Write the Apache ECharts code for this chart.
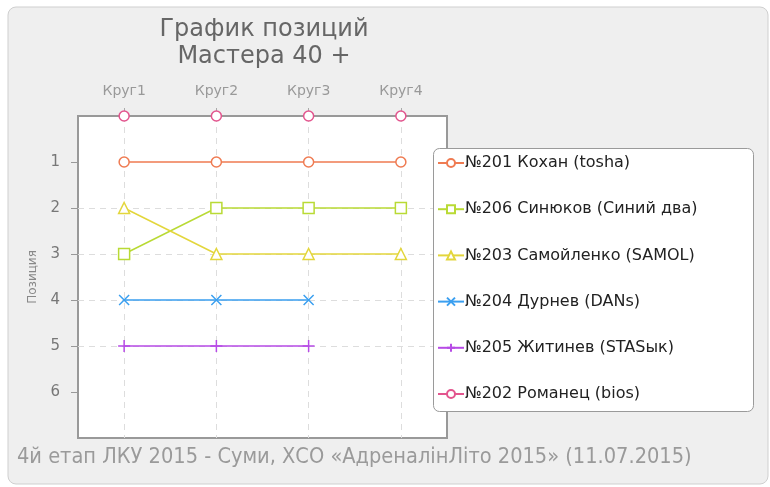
<!DOCTYPE html>
<html>
<head>
<meta charset="utf-8">
<script src="https://cdn.jsdelivr.net/npm/echarts@6/dist/echarts.min.js"></script>
<style>
  html, body { margin: 0; padding: 0; background: #fff; }
  #main { width: 770px; height: 487px; }
</style>
</head>
<body>
<div id="main"></div>
<script>
const rounds = ['Круг1', 'Круг2', 'Круг3', 'Круг4'];
const names = [
  '№201 Кохан (tosha)',
  '№206 Синюков (Синий два)',
  '№203 Самойленко (SAMOL)',
  '№204 Дурнев (DANs)',
  '№205 Житинев (STASык)',
  '№202 Романец (bios)'
];
const positionTicks = [1, 2, 3, 4, 5, 6];
const kohan = [1, 1, 1, 1];
const sinyukov = [3, 2, 2, 2];
const samoilenko = [2, 3, 3, 3];
const durnev = [4, 4, 4, null];
const zhitinev = [5, 5, 5, null];
const romanets = [0, 0, 0, 0];

const colors = ['#ef7b52', '#b9da35', '#e3d63c', '#3a9ff0', '#b74be6', '#e3558e'];
const symbols = [
  'circle',
  'path://M0,0L10,0L10,10L0,10Z',
  'path://M5,0L10,9L0,9Z',
  'path://M0,0L10,10M10,0L0,10',
  'path://M5,0L5,10M0,5L10,5',
  'circle'
];
const sizes = [10, 11, 11, 10, 12, 10];
const values = [kohan, sinyukov, samoilenko, durnev, zhitinev, romanets];

const chart = echarts.init(document.getElementById('main'));

const series = names.map((name, i) => ({
  name: name,
  type: 'line',
  data: values[i],
  symbol: symbols[i],
  symbolSize: sizes[i],
  showAllSymbol: true,
  connectNulls: false,
  lineStyle: { color: colors[i], width: 1.5, opacity: i === 5 ? 0 : 1 },
  itemStyle: { color: '#fff', borderColor: colors[i], borderWidth: 1.5 },
  emphasis: { disabled: true },
  z: 3
}));

chart.setOption({
  animation: false,
  backgroundColor: '#fff',
  textStyle: { fontFamily: 'DejaVu Sans, sans-serif' },
  title: {
    text: 'График позиций\nМастера 40 +',
    left: 259,
    top: 11,
    textAlign: 'center',
    textStyle: { fontSize: 24, fontWeight: 'normal', color: '#666', lineHeight: 27, fontFamily: 'DejaVu Sans, sans-serif' }
  },
  graphic: [
    {
      type: 'rect', z: -10, silent: true,
      shape: { x: 8, y: 7, width: 760, height: 477, r: 8 },
      style: { fill: '#efefef', stroke: '#cfcfcf', lineWidth: 1 }
    },
    {
      type: 'rect', z: 1, silent: true,
      shape: { x: 433.5, y: 148.5, width: 320, height: 263, r: 6 },
      style: { fill: '#fff', stroke: '#9a9a9a', lineWidth: 1 }
    },
    {
      type: 'text', left: 17, top: 446, silent: true,
      style: {
        text: '4й етап ЛКУ 2015 - Суми, ХСО «АдреналінЛіто 2015» (11.07.2015)',
        fill: '#9a9a9a',
        font: '21.6px "DejaVu Sans Condensed", "Liberation Sans Narrow", sans-serif'
      }
    }
  ],
  legend: {
    orient: 'vertical',
    left: 437,
    top: 155,
    padding: 0,
    itemGap: 30.2,
    itemWidth: 26,
    itemHeight: 10,
    textStyle: { fontSize: 16, color: '#222', padding: [0, 0, 0, -4] },
    data: names.map((n, i) => i === 5 ? { name: n, lineStyle: { opacity: 1 } } : { name: n })
  },
  grid: {
    left: 78, top: 116, width: 369, height: 322,
    show: true,
    backgroundColor: '#fff',
    borderColor: '#999',
    borderWidth: 2
  },
  xAxis: {
    type: 'category',
    position: 'top',
    data: rounds,
    axisLine: { show: false },
    axisTick: { show: true, alignWithLabel: true, length: 8, lineStyle: { color: '#aaa' } },
    axisLabel: { color: '#999', fontSize: 14, margin: 18 },
    splitLine: { show: true, alignWithLabel: true, lineStyle: { color: '#ddd', type: [6, 5] } }
  },
  yAxis: {
    type: 'value',
    inverse: true,
    min: 0,
    max: 7,
    interval: 1,
    name: 'Позиция',
    nameLocation: 'middle',
    nameGap: 39,
    nameTextStyle: { color: '#888', fontSize: 12 },
    axisLine: { show: false },
    axisTick: { show: true, length: 7, customValues: positionTicks, lineStyle: { color: '#999' } },
    axisLabel: { color: '#777', fontSize: 15, margin: 18, customValues: positionTicks },
    splitLine: { show: true, showMinLine: false, showMaxLine: false, lineStyle: { color: '#ddd', type: [6, 5] } }
  },
  series: series
});
</script>
</body>
</html>
